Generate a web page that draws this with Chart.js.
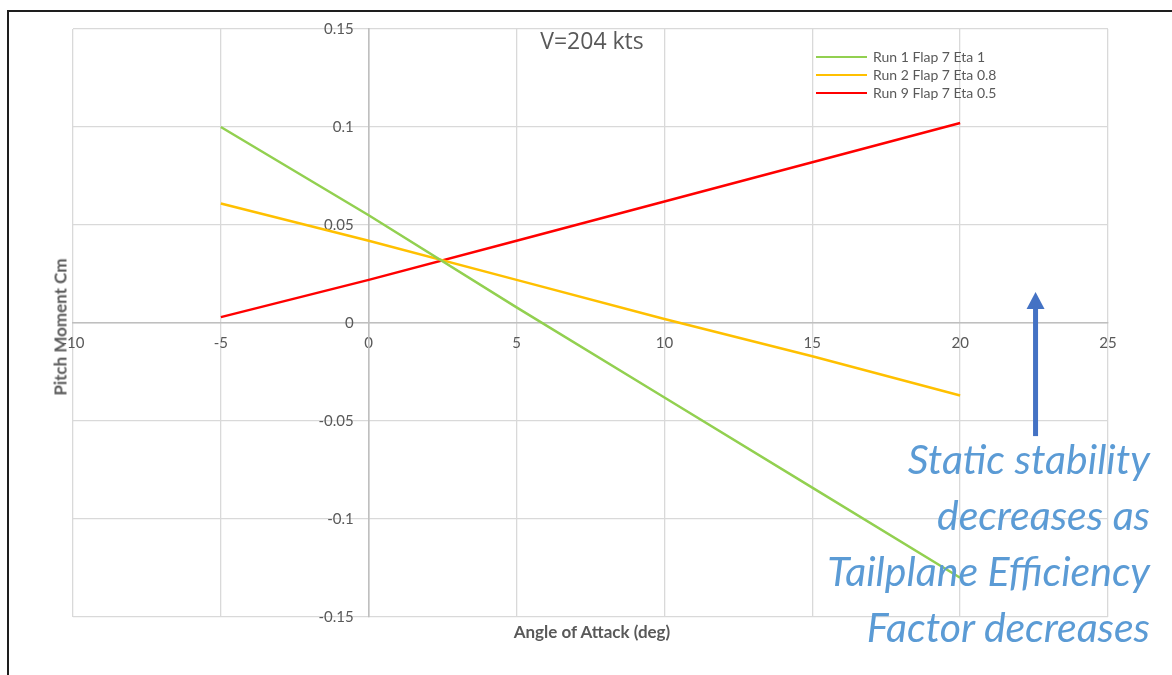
<!DOCTYPE html>
<html lang="en">
<head>
  <meta charset="UTF-8" />
  <title>Pitch Moment vs Angle of Attack</title>
  <script src="https://cdn.jsdelivr.net/npm/chart.js"></script>
  <style>
    body { margin: 0; background: #fff; font-family: Lato, "Open Sans", sans-serif; }
    #wrap { position: relative; width: 1172px; height: 675px; overflow: hidden; }
    #frame { position: absolute; left: 7px; top: 10px; right: -5px; bottom: -5px;
             border-top: 2px solid #1e1e1e; border-left: 2px solid #1e1e1e; }
    canvas { position: absolute; left: 0; top: 0; }
    .lbl { position: absolute; color: #595959; white-space: nowrap; }
    #title { left: 442px; top: 24px; width: 300px; text-align: center; font-size: 23px; font-family: "Open Sans", sans-serif; }
    #ytitle { left: 60px; top: 327px; font-size: 17px; font-weight: bold; transform: translate(-50%, -50%) rotate(-90deg); }
    #xtitle { left: 442px; top: 621px; width: 300px; text-align: center; font-size: 17px; font-weight: bold; }
    #legend { position: absolute; left: 816px; top: 48px; font-size: 14px; color: #595959; }
    #legend div { height: 18px; line-height: 18px; display: flex; align-items: center; }
    #legend span.sw { display: inline-block; width: 51px; height: 2px; margin-right: 6px; }
    #note { position: absolute; right: 22px; top: 431px; text-align: right; color: #5b9bd5;
            font-style: italic; font-size: 41px; line-height: 56px; }
  </style>
</head>
<body>
<div id="wrap">
  <div id="frame"></div>
  <canvas id="chart" width="1172" height="675"></canvas>
  <div class="lbl" id="title">V=204 kts</div>
  <div class="lbl" id="ytitle">Pitch Moment Cm</div>
  <div class="lbl" id="xtitle">Angle of Attack (deg)</div>
  <div id="legend"></div>
  <div id="note">Static stability<br>decreases as<br>Tailplane Efficiency<br>Factor decreases</div>
</div>

<script>
  // angle of attack (deg)
  const alpha = [-5, 0, 5, 10, 15, 20];

  // pitch moment Cm per run
  const run1 = [0.100, 0.055, 0.008, -0.038, -0.084, -0.130];
  const run2 = [0.061, 0.042, 0.022, 0.002, -0.017, -0.037];
  const run9 = [0.003, 0.022, 0.042, 0.062, 0.082, 0.102];

  const seriesNames = ['Run 1 Flap 7 Eta 1', 'Run 2 Flap 7 Eta 0.8', 'Run 9 Flap 7 Eta 0.5'];
  const seriesColors = ['#92d050', '#ffc000', '#ff0000'];

  // arrow annotation, in data units
  const arrowX = 22.55;
  const arrowFrom = -0.0577;
  const arrowTo = 0.0158;

  const toPoints = ys => ys.map((y, i) => ({ x: alpha[i], y }));

  const datasets = [run1, run2, run9].map((ys, i) => ({
    label: seriesNames[i],
    data: toPoints(ys),
    borderColor: seriesColors[i],
    borderWidth: 2.5,
    pointRadius: 0,
    showLine: true,
    fill: false
  }));

  // legend built from the datasets
  const legendEl = document.getElementById('legend');
  datasets.forEach(ds => {
    const row = document.createElement('div');
    row.innerHTML = '<span class="sw" style="background:' + ds.borderColor + '"></span>' + ds.label;
    legendEl.appendChild(row);
  });

  const arrowPlugin = {
    id: 'arrow',
    afterDatasetsDraw(chart) {
      const { ctx, scales: { x, y } } = chart;
      const px = x.getPixelForValue(arrowX);
      const y0 = y.getPixelForValue(arrowFrom);
      const y1 = y.getPixelForValue(arrowTo);
      ctx.save();
      ctx.fillStyle = '#4472c4';
      ctx.fillRect(px - 2.5, y1 + 15, 5, y0 - y1 - 15);
      ctx.beginPath();
      ctx.moveTo(px, y1);
      ctx.lineTo(px + 9, y1 + 17);
      ctx.lineTo(px - 9, y1 + 17);
      ctx.closePath();
      ctx.fill();
      ctx.restore();
    }
  };

  const tickFont = { family: 'Lato', size: 15 };

  new Chart(document.getElementById('chart'), {
    type: 'scatter',
    data: { datasets },
    options: {
      responsive: false,
      animation: false,
      layout: { padding: { left: 73, top: 29, right: 64, bottom: 58 } },
      plugins: { legend: { display: false }, tooltip: { enabled: false } },
      scales: {
        x: {
          type: 'linear',
          min: -10,
          max: 25,
          position: { y: 0 },
          ticks: { stepSize: 5, color: '#595959', font: tickFont, padding: 11 },
          grid: { color: '#d9d9d9', lineWidth: 1.3, drawTicks: false },
          border: { color: '#bfbfbf', width: 1.6 }
        },
        y: {
          type: 'linear',
          min: -0.15,
          max: 0.15,
          position: { x: 0 },
          ticks: {
            stepSize: 0.05,
            color: '#595959',
            font: tickFont,
            // labels sit right on the axis line, so push them off it with two en spaces
            callback: v => String(+v.toFixed(2)) + '\u2002\u2002'
          },
          grid: { color: '#d9d9d9', lineWidth: 1.3, drawTicks: false },
          border: { color: '#bfbfbf', width: 1.6 }
        }
      }
    },
    plugins: [arrowPlugin]
  });
</script>
</body>
</html>
